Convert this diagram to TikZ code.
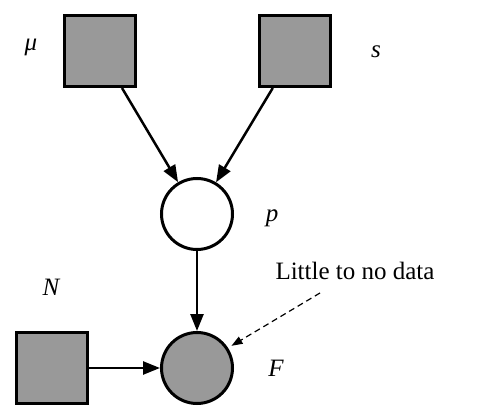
\documentclass[tikz,border=0pt]{standalone}
\usepackage{fontspec}
\setmainfont{Liberation Serif}
\usetikzlibrary{arrows.meta}
\begin{document}
\begin{tikzpicture}[x=1pt,y=-1pt,
  boxnode/.style={draw,line width=3pt,fill=black!40,minimum size=71pt,inner sep=0pt},
  circnode/.style={draw,line width=3pt,circle,minimum size=71pt,inner sep=0pt},
  lbl/.style={font=\fontsize{25}{28}\selectfont\itshape},
  conn/.style={line width=2.5pt,-{Triangle[length=17pt,width=13pt]}},
  dconn/.style={line width=1.2pt,dash pattern=on 6pt off 4pt,-{Triangle[length=11pt,width=8pt]}}]
\useasboundingbox (0,0) rectangle (483,420);
\node[boxnode] (mu) at (100,51) {};
\node[boxnode] (s) at (295,51) {};
\node[circnode,fill=white] (p) at (197,214) {};
\node[circnode,fill=black!40] (F) at (197,368) {};
\node[boxnode] (N) at (52,368) {};
\node[lbl] (lmu) at (31,47) {μ};
\node[lbl] (ls) at (376,52) {s};
\node[lbl] (lp) at (272,218) {p};
\node[lbl] (lN) at (51,287) {N};
\node[lbl] (lF) at (276,368) {F};
\node[font=\fontsize{25}{28}\selectfont] (note) at (355,271) {Little to no data};
\coordinate (nstart) at (320,293);
\draw[conn] (mu) -- (p);
\draw[conn] (s) -- (p);
\draw[conn] (p) -- (F);
\draw[conn] (N) -- (F);
\draw[dconn,shorten >=4pt] (nstart) -- (F.33);
\end{tikzpicture}
\end{document}
